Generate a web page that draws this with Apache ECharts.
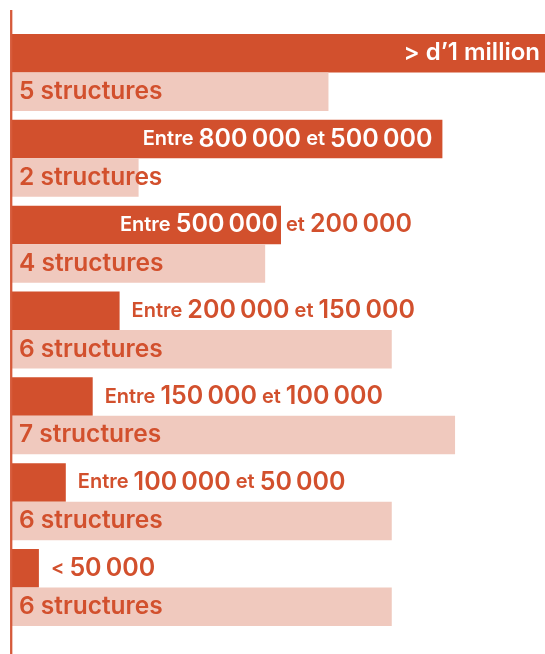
<!DOCTYPE html>
<html>
<head>
<meta charset="utf-8">
<script src="https://cdn.jsdelivr.net/npm/echarts@6/dist/echarts.min.js"></script>
<style>
  html, body { margin: 0; padding: 0; background: #ffffff; }
  #chart { width: 545px; height: 654px; }
</style>
</head>
<body>
<div id="chart"></div>
<script>
// Funding brackets, from the highest to the lowest
const brackets = ['> 1 000 000', '800 000 – 500 000', '500 000 – 200 000', '200 000 – 150 000',
                  '150 000 – 100 000', '100 000 – 50 000', '< 50 000'];
// Upper bound of each bracket, in thousands of euros
const upperBounds = [1000, 800, 500, 200, 150, 100, 50];
// Number of structures in each bracket
const structureCounts = [5, 2, 4, 6, 7, 6, 6];
// Bracket captions: the part printed inside the bar, and the part that continues after it
const captionInside = ['{m|> d’1 million}', 'Entre {b|800\u202F000} et {b|500\u202F000}', 'Entre {b|500\u202F000}', '', '', '', ''];
const captionOutside = ['', '', 'et {b|200\u202F000}', 'Entre {b|200\u202F000} et {b|150\u202F000}',
                        'Entre {b|150\u202F000} et {b|100\u202F000}', 'Entre {b|100\u202F000} et {b|50\u202F000}', '< {b|50\u202F000}'];

const DARK = '#d2502d';
const LIGHT = '#f0c9be';
const FONT = 'Inter';

const richStyles = {
  b: { fontFamily: FONT, fontSize: 25, fontWeight: 600, verticalAlign: 'bottom' },
  m: { fontFamily: FONT, fontSize: 24, fontWeight: 600, verticalAlign: 'bottom' }
};
function rich(color) {
  const out = {};
  Object.keys(richStyles).forEach(k => { out[k] = Object.assign({ color: color }, richStyles[k]); });
  return out;
}

// A caption split across the bar end hugs the edge on both sides
const isSplit = i => captionInside[i] !== '' && captionOutside[i] !== '';

const chart = echarts.init(document.getElementById('chart'), null, { renderer: 'canvas' });

chart.setOption({
  animation: false,
  backgroundColor: '#ffffff',
  // the top bracket runs past the right edge of the page
  grid: { left: 12, width: 538, top: 29.6, bottom: 23.6, outerBoundsMode: 'none', containLabel: false },
  xAxis: [
    { type: 'value', min: 0, max: 1000, show: false },
    { type: 'value', min: 0, max: 8.5, show: false }
  ],
  yAxis: {
    type: 'category',
    inverse: true,
    data: brackets,
    show: false
  },
  series: [
    {
      name: 'Montant',
      type: 'bar',
      xAxisIndex: 0,
      stack: 'montant',
      barWidth: 38.5,
      barGap: '0%',
      itemStyle: { color: DARK },
      data: upperBounds.map((v, i) => ({
        value: v,
        label: { distance: isSplit(i) ? 3 : 10 }
      })),
      label: {
        show: true,
        position: 'insideRight',
        color: '#ffffff',
        fontFamily: FONT,
        fontSize: 20,
        fontWeight: 600,
        formatter: p => captionInside[p.dataIndex],
        rich: rich('#ffffff')
      }
    },
    {
      name: 'Suite',
      type: 'bar',
      xAxisIndex: 0,
      stack: 'montant',
      barWidth: 38.5,
      itemStyle: { color: 'rgba(0,0,0,0)' },
      data: captionOutside.map((c, i) => ({
        value: 0,
        label: { distance: isSplit(i) ? 5 : 12 }
      })),
      label: {
        show: true,
        position: 'right',
        color: DARK,
        fontFamily: FONT,
        fontSize: 20,
        fontWeight: 600,
        formatter: p => captionOutside[p.dataIndex],
        rich: rich(DARK)
      }
    },
    {
      name: 'Structures',
      type: 'bar',
      xAxisIndex: 1,
      barWidth: 38.5,
      barGap: '0%',
      itemStyle: { color: LIGHT },
      data: structureCounts,
      label: {
        show: true,
        position: 'insideLeft',
        distance: 7,
        color: DARK,
        fontFamily: FONT,
        fontSize: 24.5,
        fontWeight: 600,
        formatter: p => p.value + ' structures'
      }
    }
  ],
  graphic: [{
    type: 'line',
    z: 100,
    shape: { x1: 11.2, y1: 10, x2: 11.2, y2: 654 },
    style: { stroke: '#d65a3a', lineWidth: 2.3 }
  }]
});
</script>
</body>
</html>
